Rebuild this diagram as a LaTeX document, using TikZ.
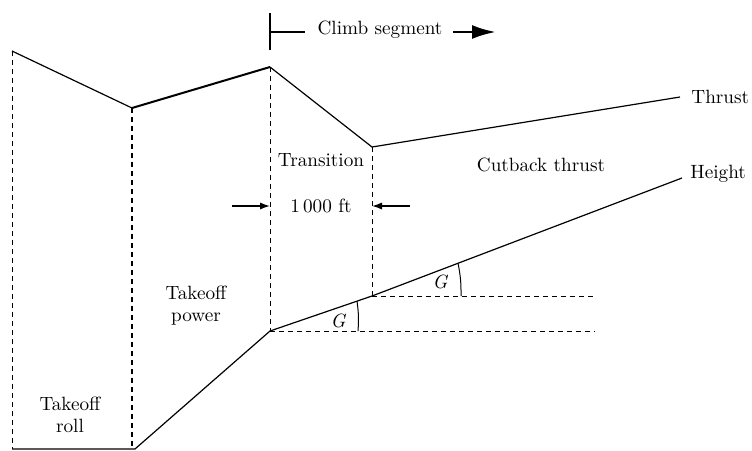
\documentclass[tikz,border=0pt]{standalone}
\usetikzlibrary{arrows.meta, positioning}

\begin{document}
\begin{tikzpicture}[
  x=0.5pt, y=-0.5pt,
  ln/.style={line width=0.6pt},
  dsh/.style={line width=0.45pt, dash pattern=on 2.5pt off 2pt},
  arr/.style={-{Latex[length=5pt, width=3.6pt]}, line width=0.7pt},
  bigarr/.style={-{Latex[length=12pt, width=7pt]}, line width=1.4pt},
  lbl/.style={align=center, inner sep=1pt},
  font=\fontsize{9.6}{11}\selectfont
]
\useasboundingbox (0,0) rectangle (752,451);
% thrust curve
\coordinate (t0) at (12,51);
\coordinate (t1) at (132,108);
\coordinate (t2) at (270,67);
\coordinate (t3) at (372,147);
\coordinate (t4) at (680,97);
% height curve
\coordinate (h0) at (12,449);
\coordinate (h1) at (135,449);
\coordinate (h2) at (270,331);
\coordinate (h3) at (372,296);
\coordinate (h4) at (682,178);
\coordinate (b0) at (12,449);
\coordinate (b1) at (132,449);
\coordinate (b2) at (270,331);
\coordinate (b3) at (372,296);
\coordinate (e2) at (595,331);
\coordinate (e3) at (595,296);

\draw[ln] (t0) -- (t1);
\draw[line width=1pt] (t1) -- (t2);
\draw[ln] (t2) -- (t3) -- (t4);
\draw[ln] (h0) -- (h1) -- (h2) -- (h3) -- (h4);

% phase boundaries
\draw[dsh] (t0) -- (b0);
\draw[dsh, line width=0.9pt] (t1) -- (b1);
\draw[dsh] (t2) -- (b2);
\draw[dsh] (t3) -- (b3);
\draw[dsh] (h2) -- (e2);
\draw[dsh] (h3) -- (e3);

% climb gradient marks
\coordinate (g1a) at (357,301);
\coordinate (g1b) at (358,331);
\coordinate (g2a) at (458,263);
\coordinate (g2b) at (461,296);
\draw[line width=0.5pt] (g1a) to[bend left=6] (g1b);
\draw[line width=0.5pt] (g2a) to[bend left=6] (g2b);
\node[lbl] (g1) at (338,321) {\itshape G};
\node[lbl] (g2) at (440,282) {\itshape G};

% climb segment marker
\coordinate (c0) at (270,13);
\coordinate (c1) at (270,50);
\coordinate (cm) at (270,32);
\coordinate (ce) at (305,32);
\coordinate (as) at (453,32);
\coordinate (ae) at (496,32);
\draw[ln] (c0) -- (c1);
\draw[line width=1pt] (cm) -- (ce);
\node[lbl] (climb) at (380,30) {Climb segment};
\draw[bigarr] (as) -- (ae);

% 1000 ft
\node[lbl] (dist) at (321,206) {1\,000 ft};
\coordinate (d1) at (270,206);
\coordinate (d2) at (372,206);
\coordinate (d1s) at (232,206);
\coordinate (d2s) at (410,206);
\draw[arr] (d1s) -- (d1);
\draw[arr] (d2s) -- (d2);

% labels
\node[lbl] (trans) at (321,160) {Transition};
\node[lbl] (cutback) at (541,165) {Cutback thrust};
\node[lbl] (power) at (196,306) {Takeoff\\power};
\node[lbl] (roll) at (70,415) {Takeoff\\roll};
\node[lbl, inner sep=0.5pt, right=5pt of t4] (thrustlbl) {Thrust};
\node[lbl, inner sep=0.5pt, right=3.5pt of h4, yshift=2pt] (heightlbl) {Height};
\end{tikzpicture}
\end{document}
